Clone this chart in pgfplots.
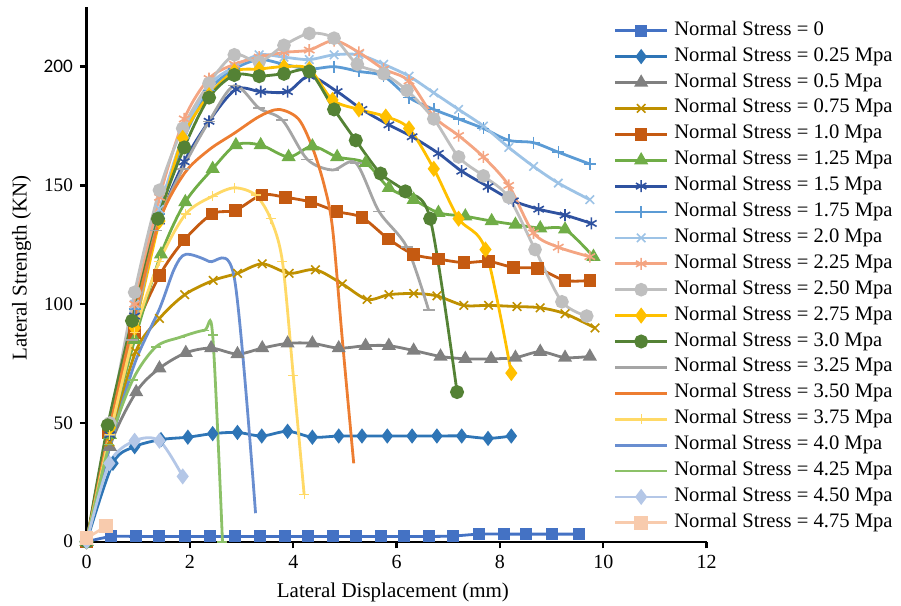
\documentclass[border=0pt]{standalone}
\usepackage{pgfplots}
\pgfplotsset{compat=1.18}
\usepackage{fontspec}
\setmainfont{Liberation Serif}
\newfontfamily\carlito{Carlito}
\definecolor{c00}{HTML}{4472C4}
\definecolor{c025}{HTML}{2E75B6}
\definecolor{c05}{HTML}{808080}
\definecolor{c075}{HTML}{BF9000}
\definecolor{c10}{HTML}{C55A11}
\definecolor{c125}{HTML}{70AD47}
\definecolor{c15}{HTML}{2F52A0}
\definecolor{c175}{HTML}{5B9BD5}
\definecolor{c20}{HTML}{9DC3E6}
\definecolor{c225}{HTML}{F4A582}
\definecolor{c250}{HTML}{BFBFBF}
\definecolor{c275}{HTML}{FFC000}
\definecolor{c30}{HTML}{548235}
\definecolor{c325}{HTML}{A5A5A5}
\definecolor{c350}{HTML}{ED7D31}
\definecolor{c375}{HTML}{FFD966}
\definecolor{c40}{HTML}{698ED0}
\definecolor{c425}{HTML}{8CC168}
\definecolor{c450}{HTML}{B4C7E7}
\definecolor{c475}{HTML}{F8CBAD}
\begin{document}
\begin{tikzpicture}
\useasboundingbox (-43.3pt,-32.15pt) rectangle (407.2pt,270.85pt);
\begin{axis}[
  at={(0pt,0pt)}, anchor=south west,
  scale only axis, width=310pt, height=267.2pt,
  xmin=0, xmax=12, ymin=0, ymax=225,
  axis x line=bottom, axis y line=left,
  axis line style={-, line width=1.2pt, black},
  tick align=outside, major tick length=3.3pt,
  tick style={line width=1.2pt, black},
  xtick={0,2,...,12}, xticklabels={0,2,4,6,8,10,12},
  ytick={0,50,100,150,200}, yticklabels={0,50,100,150,{\carlito 200}},
  xticklabel style={font=\fontsize{10}{11}\selectfont},
  yticklabel style={font=\fontsize{9.6}{11}\selectfont},
  xlabel={Lateral Displacement (mm)},
  ylabel={Lateral Strength (KN)},
  xlabel style={at={(rel axis cs:0.494,0)}, anchor=center, yshift=-25.3pt, font=\fontsize{10.5}{12}\selectfont},
  ylabel style={at={(rel axis cs:-0.1048,0.512)}, anchor=center, font=\fontsize{10.5}{12}\selectfont},
  clip=false,
  legend image code/.code={\draw[mark repeat=2,mark phase=2] plot coordinates {(0pt,0pt) (12.9pt,0pt) (25.8pt,0pt)};},
  legend cell align=left,
  legend style={at={(0.8506,0.974)}, anchor=north west, draw=none, fill=none,
    inner sep=0pt, outer sep=0pt, row sep=3.45pt, column sep=3pt,
    font=\fontsize{10.3}{11}\selectfont,
    nodes={inner sep=0pt, text height=7pt, text depth=2.5pt}},
  every axis plot/.append style={line width=1.4pt, smooth, mark options={solid}},
]
\addplot[color=c00, mark=square*, mark size=2.3pt] coordinates {(0,0)(0.48,2.2)(0.95,2.2)(1.41,2.2)(1.9,2.2)(2.38,2.2)(2.87,2.2)(3.36,2.2)(3.84,2.2)(4.28,2.2)(4.77,2.2)(5.21,2.2)(5.7,2.2)(6.14,2.2)(6.63,2.2)(7.1,2.4)(7.6,3.2)(8.08,3.2)(8.5,3.2)(9.0,3.2)(9.54,3.2)};
\addlegendentry{Normal Stress = 0}
\addplot[color=c025, mark=diamond*, mark size=2.7pt] coordinates {(0,0)(0.51,33)(0.93,40)(1.44,43)(1.96,44)(2.44,45.5)(2.92,46)(3.39,44.5)(3.89,46.5)(4.37,44)(4.88,44.5)(5.33,44.5)(5.82,44.5)(6.3,44.5)(6.78,44.5)(7.26,44.5)(7.77,43.5)(8.22,44.5)};
\addlegendentry{Normal Stress = 0.25 Mpa}
\addplot[color=c05, mark=triangle*, mark size=2.7pt] coordinates {(0,0)(0.45,40)(0.96,63)(1.41,73)(1.92,79.5)(2.41,81.5)(2.92,79)(3.4,81.5)(3.89,83.5)(4.37,83.5)(4.88,81.5)(5.4,82.5)(5.85,82.5)(6.33,80.5)(6.85,78)(7.33,77)(7.83,77)(8.3,77.5)(8.78,80)(9.26,77.5)(9.74,78)};
\addlegendentry{Normal Stress = 0.5 Mpa}
\addplot[color=c075, mark=x, mark size=3pt, mark options={line width=0.8pt}] coordinates {(0,0)(0.45,42)(0.95,80)(1.41,94)(1.9,104)(2.45,110)(2.92,113)(3.4,117)(3.92,113)(4.43,114.5)(4.95,108.5)(5.43,102)(5.85,104)(6.33,104.5)(6.78,103.5)(7.3,99.5)(7.78,99.5)(8.33,99)(8.78,98.5)(9.26,96)(9.84,90)};
\addlegendentry{Normal Stress = 0.75 Mpa}
\addplot[color=c10, mark=square*, mark size=2.4pt] coordinates {(0,0)(0.41,46)(0.93,88)(1.41,112)(1.89,127)(2.43,138)(2.88,139.5)(3.39,146)(3.85,145)(4.34,143)(4.85,139)(5.33,136.5)(5.84,127.5)(6.33,121)(6.81,119)(7.3,117.5)(7.78,118)(8.26,115.5)(8.73,115)(9.26,110)(9.74,110)};
\addlegendentry{Normal Stress = 1.0 Mpa}
\addplot[color=c125, mark=triangle*, mark size=2.7pt] coordinates {(0,0)(0.45,45)(0.93,85)(1.44,121)(1.91,143)(2.44,157)(2.89,167)(3.37,167)(3.91,162)(4.37,166.5)(4.85,162)(5.4,159.5)(5.85,149)(6.33,144)(6.81,138.5)(7.33,137)(7.84,135)(8.3,133.5)(8.78,132)(9.26,131.5)(9.81,120)};
\addlegendentry{Normal Stress = 1.25 Mpa}
\addplot[color=c15, mark=asterisk, mark size=3pt, mark options={line width=0.8pt}] coordinates {(0,0)(0.45,45)(0.93,95)(1.41,135)(1.89,160)(2.37,177)(2.89,190.5)(3.37,189.5)(3.89,189.5)(4.31,196)(4.85,189.5)(5.33,182)(5.85,175.5)(6.3,170.5)(6.81,163.5)(7.26,156)(7.77,149.5)(8.26,143.5)(8.75,140)(9.26,137.5)(9.77,134)};
\addlegendentry{Normal Stress = 1.5 Mpa}
\addplot[color=c175, mark=+, mark size=3pt, mark options={line width=0.8pt}] coordinates {(0,0)(0.45,48)(0.93,98)(1.41,138)(1.89,170)(2.37,190)(2.86,199)(3.34,203)(3.82,201)(4.31,199)(4.79,200)(5.27,198)(5.75,196)(6.24,187)(6.72,182)(7.2,178)(7.68,174)(8.17,169)(8.65,168)(9.13,164)(9.74,159)};
\addlegendentry{Normal Stress = 1.75 Mpa}
\addplot[color=c20, mark=x, mark size=3pt, mark options={line width=0.8pt}] coordinates {(0,0)(0.45,50)(0.93,100)(1.41,140)(1.89,172)(2.37,192)(2.86,200)(3.34,205)(3.82,204)(4.31,203)(4.79,205)(5.27,205)(5.75,201)(6.24,196)(6.72,189)(7.2,182)(7.68,175)(8.17,166)(8.65,158)(9.13,151)(9.74,144)};
\addlegendentry{Normal Stress = 2.0 Mpa}
\addplot[color=c225, mark=asterisk, mark size=3pt, mark options={line width=0.8pt}] coordinates {(0,0)(0.45,50)(0.93,100)(1.41,145)(1.89,178)(2.37,195)(2.86,201)(3.34,204)(3.82,206)(4.31,207)(4.79,211)(5.27,206)(5.75,199)(6.24,194)(6.72,179)(7.2,171)(7.68,162)(8.17,150)(8.65,130)(9.13,124)(9.74,120)};
\addlegendentry{Normal Stress = 2.25 Mpa}
\addplot[color=c250, mark=*, mark size=2.7pt] coordinates {(0,0)(0.45,50)(0.93,105)(1.41,148)(1.86,174)(2.37,193)(2.86,205)(3.34,202)(3.82,209)(4.31,214)(4.79,212)(5.24,201)(5.75,197)(6.2,190)(6.72,178)(7.2,162)(7.68,154)(8.17,145)(8.68,123)(9.2,101)(9.68,95)};
\addlegendentry{Normal Stress = 2.50 Mpa}
\addplot[color=c275, mark=diamond*, mark size=2.9pt] coordinates {(0,0)(0.45,48)(0.93,90)(1.41,135)(1.86,170)(2.37,188)(2.86,198)(3.34,199)(3.82,200)(4.31,199)(4.76,186)(5.27,182)(5.79,179)(6.24,174)(6.72,157)(7.2,136)(7.72,123)(8.22,71)};
\addlegendentry{Normal Stress = 2.75 Mpa}
\addplot[color=c30, mark=*, mark size=2.8pt] coordinates {(0,0)(0.41,49)(0.88,93)(1.38,136)(1.89,166)(2.37,187)(2.86,196.5)(3.34,196)(3.82,197)(4.31,198)(4.79,182)(5.21,169)(5.69,155)(6.17,147.5)(6.65,136)(7.17,63)};
\addlegendentry{Normal Stress = 3.0 Mpa}
\addplot[color=c325, mark=-, mark size=3pt, mark options={line width=0.8pt}] coordinates {(0,0)(0.45,45)(0.88,85)(1.34,131)(1.86,157)(2.37,177)(2.86,192)(3.34,182.5)(3.79,177.5)(4.27,161)(4.76,156.5)(5.21,159.5)(5.66,139)(6.2,124)(6.62,97.5)};
\addlegendentry{Normal Stress = 3.25 Mpa}
\addplot[color=c350] coordinates {(0,0)(0.45,48)(0.93,95)(1.41,135)(1.89,155)(2.37,165)(2.86,172)(3.34,179)(3.72,182)(4.1,178)(4.37,166)(4.6,150)(4.76,132)(4.95,85)(5.17,33)};
\addlegendentry{Normal Stress = 3.50 Mpa}
\addplot[color=c375, mark=+, mark size=2.5pt, mark options={line width=0.6pt}] coordinates {(0,0)(0.45,45)(0.93,88)(1.41,118)(1.92,138)(2.44,145.5)(2.86,149)(3.27,146)(3.56,136)(3.79,118)(4.0,70)(4.21,20)};
\addlegendentry{Normal Stress = 3.75 Mpa}
\addplot[color=c40] coordinates {(0,0)(0.45,40)(0.93,75)(1.41,98)(1.7,115)(1.92,121)(2.37,118)(2.86,111)(3.27,12)};
\addlegendentry{Normal Stress = 4.0 Mpa}
\addplot[color=c425, mark=-, mark size=2.5pt, mark options={line width=0.8pt}] coordinates {(0,0)(0.44,41)(0.89,68)(1.34,82)(1.8,86)(2.28,89)(2.44,87)(2.63,0)};
\addlegendentry{Normal Stress = 4.25 Mpa}
\addplot[color=c450, mark=diamond*, mark size=2.9pt] coordinates {(0,0)(0.44,33)(0.93,42.5)(1.41,42.5)(1.86,27.5)};
\addlegendentry{Normal Stress = 4.50 Mpa}
\addplot[color=c475, mark=square*, mark size=2.7pt] coordinates {(0,1.5)(0.38,6.5)};
\addlegendentry{Normal Stress = 4.75 Mpa}
\end{axis}
\end{tikzpicture}
\end{document}
